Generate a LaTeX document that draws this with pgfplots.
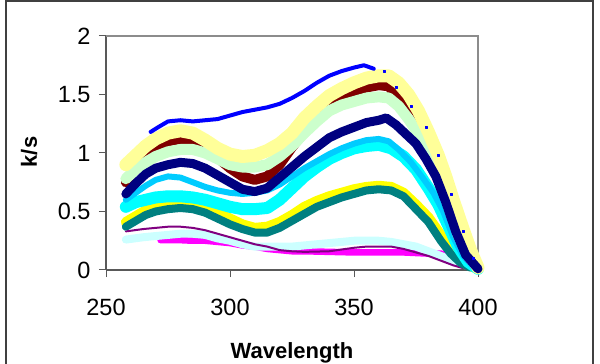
\documentclass[border=0pt]{standalone}
\usepackage{fontspec}
\setmainfont{Liberation Sans}
\usepackage{pgfplots}
\pgfplotsset{compat=1.18}
\definecolor{cBlue}{HTML}{0000FF}
\definecolor{cLYellow}{HTML}{FFFF99}
\definecolor{cMaroon}{HTML}{800000}
\definecolor{cLGreen}{HTML}{CCFFCC}
\definecolor{cNavy}{HTML}{000080}
\definecolor{cSky}{HTML}{00CCFF}
\definecolor{cCyan}{HTML}{00FFFF}
\definecolor{cYellow}{HTML}{FFFF00}
\definecolor{cTeal}{HTML}{008080}
\definecolor{cPurple}{HTML}{800080}
\definecolor{cLCyan}{HTML}{CCFFFF}
\definecolor{cMagenta}{HTML}{FF00FF}
\begin{document}
\begin{tikzpicture}
\useasboundingbox (0,0) rectangle (600bp,364bp);
\draw[line width=2bp, draw=black!75] (6bp,-20bp) rectangle (593bp,363bp);
\begin{axis}[
  at={(106bp,94bp)}, anchor=south west,
  scale only axis, width=372bp, height=234bp,
  xmin=250, xmax=400, ymin=0, ymax=2,
  xtick={250,300,350,400}, ytick={0,0.5,1,1.5,2},
  yticklabels={0,0.5,1,1.5,2},
  axis x line*=bottom, axis y line*=left,
  axis line style={draw=black!65, line width=1.2bp, -},
  tick align=outside, major tick length=7bp,
  tick style={draw=black!65, line width=1bp},
  /pgf/number format/assume math mode=true,
  ticklabel style={font=\fontsize{23.5bp}{28bp}\selectfont},
  xticklabel style={yshift=-19bp},
  yticklabel style={xshift=-5bp},
  clip=false,
  every axis plot/.append style={line cap=round, line join=round, mark=none},
]
\draw[draw=black!45, line width=1.2bp] (rel axis cs:0,1) -- (rel axis cs:1,1) -- (rel axis cs:1,0);
% magenta
\addplot[cMagenta, line width=6.5bp] coordinates {(272,0.255)(275,0.255)(280,0.255)(285,0.25)(290,0.25)(295,0.24)(300,0.23)(305,0.21)(310,0.2)(315,0.18)(320,0.17)(325,0.16)(330,0.16)(340,0.155)(350,0.15)(360,0.15)(370,0.15)(380,0.14)(385,0.14)(390,0.12)(395,0.11)(399,0.1)};
% light cyan
\addplot[cLCyan, line width=8bp] coordinates {(258,0.26)(265,0.28)(270,0.29)(275,0.3)(280,0.31)(285,0.31)(290,0.3)(295,0.27)(300,0.25)(305,0.22)(310,0.2)(315,0.2)(320,0.2)(325,0.2)(330,0.21)(340,0.23)(350,0.25)(360,0.25)(365,0.24)(370,0.22)(375,0.2)(380,0.16)(385,0.12)(390,0.08)(395,0.04)(400,0.01)};
% purple
\addplot[cPurple, line width=2bp] coordinates {(258,0.33)(265,0.35)(270,0.36)(275,0.37)(280,0.37)(285,0.36)(290,0.34)(295,0.31)(300,0.28)(305,0.25)(310,0.22)(315,0.2)(320,0.17)(325,0.16)(330,0.155)(340,0.16)(350,0.19)(355,0.2)(360,0.2)(365,0.2)(370,0.18)(375,0.15)(380,0.12)(385,0.08)(390,0.04)(395,0.01)(400,0.0)};
% yellow
\addplot[cYellow, line width=10bp] coordinates {(258,0.41)(262,0.46)(266,0.51)(270,0.54)(275,0.57)(280,0.58)(285,0.57)(290,0.54)(295,0.49)(300,0.44)(305,0.39)(310,0.36)(315,0.37)(320,0.41)(325,0.47)(330,0.54)(335,0.59)(340,0.63)(345,0.66)(350,0.69)(355,0.71)(360,0.72)(365,0.71)(370,0.66)(375,0.56)(380,0.45)(385,0.3)(390,0.15)(395,0.05)(400,0.01)};
% teal
\addplot[cTeal, line width=8bp] coordinates {(258,0.37)(262,0.42)(266,0.47)(270,0.5)(275,0.52)(280,0.53)(285,0.52)(290,0.49)(295,0.44)(300,0.39)(305,0.35)(310,0.32)(315,0.32)(320,0.36)(325,0.42)(330,0.48)(335,0.54)(340,0.58)(345,0.62)(350,0.65)(355,0.68)(360,0.69)(365,0.68)(370,0.63)(375,0.52)(380,0.41)(385,0.25)(389,0.14)(393,0.06)(397,0.02)};
% cyan
\addplot[cCyan, line width=12bp] coordinates {(258,0.54)(262,0.58)(266,0.6)(270,0.62)(275,0.63)(280,0.63)(285,0.62)(290,0.6)(295,0.57)(300,0.54)(305,0.52)(310,0.52)(315,0.53)(320,0.6)(325,0.7)(330,0.8)(335,0.88)(340,0.95)(345,1.0)(350,1.04)(355,1.06)(360,1.07)(365,1.04)(370,0.97)(375,0.86)(380,0.7)(384,0.56)(388,0.38)(392,0.2)(396,0.07)(400,0.01)};
% sky blue
\addplot[cSky, line width=6bp] coordinates {(258,0.6)(262,0.66)(266,0.72)(270,0.77)(275,0.8)(280,0.79)(285,0.75)(290,0.71)(295,0.68)(300,0.66)(305,0.65)(310,0.66)(315,0.68)(320,0.73)(325,0.8)(330,0.87)(335,0.93)(340,0.99)(345,1.04)(350,1.08)(355,1.11)(360,1.12)(364,1.1)(368,1.03)(373,0.92)(378,0.78)(382,0.66)(386,0.5)(390,0.28)(394,0.12)(398,0.03)};
% maroon
\addplot[cMaroon, line width=10bp] coordinates {(258,0.75)(262,0.88)(266,0.98)(270,1.05)(275,1.1)(280,1.12)(285,1.11)(290,1.05)(295,0.96)(300,0.87)(305,0.8)(310,0.77)(315,0.8)(320,0.9)(325,1.05)(330,1.18)(335,1.3)(340,1.41)(345,1.48)(350,1.53)(355,1.56)(360,1.58)(364,1.57)(368,1.47)(372,1.36)(378,1.13)(383,0.92)(386,0.77)(389,0.6)(393,0.34)(396,0.17)(400,0.02)};
% blue (dots on the descent)
\addplot[cBlue, only marks, mark=square*, mark size=1bp] coordinates {(362,1.7)(367,1.56)(373,1.4)(379,1.22)(384,0.98)(389,0.65)(394,0.33)(398,0.1)};
% light green
\addplot[cLGreen, line width=11bp] coordinates {(258,0.78)(262,0.86)(266,0.92)(270,0.97)(275,1.01)(280,1.03)(285,1.03)(290,1.0)(295,0.95)(300,0.9)(305,0.88)(310,0.88)(315,0.9)(320,0.97)(325,1.06)(330,1.17)(335,1.27)(340,1.36)(345,1.41)(350,1.44)(355,1.47)(360,1.48)(364,1.47)(368,1.4)(372,1.29)(376,1.16)(380,1.0)(384,0.8)(388,0.55)(392,0.3)(396,0.12)(400,0.02)};
% light yellow
\addplot[cLYellow, line width=13bp] coordinates {(258,0.9)(262,0.98)(266,1.06)(270,1.12)(275,1.17)(280,1.19)(285,1.17)(290,1.11)(295,1.04)(300,0.99)(305,0.97)(310,0.98)(315,1.02)(320,1.08)(325,1.17)(330,1.3)(335,1.4)(340,1.49)(345,1.55)(350,1.6)(355,1.64)(360,1.66)(364,1.66)(368,1.6)(372,1.5)(376,1.36)(380,1.18)(384,0.98)(387,0.8)(390,0.6)(394,0.35)(397,0.17)(400,0.02)};
% blue
\addplot[cBlue, line width=4bp] coordinates {(268,1.18)(271,1.22)(275,1.27)(280,1.28)(285,1.27)(290,1.28)(295,1.29)(300,1.32)(305,1.35)(310,1.37)(315,1.39)(320,1.42)(325,1.47)(330,1.53)(335,1.6)(340,1.66)(345,1.7)(350,1.73)(354,1.75)(358,1.72)};
% navy
\addplot[cNavy, line width=9bp] coordinates {(258,0.65)(262,0.74)(266,0.82)(270,0.87)(275,0.9)(280,0.92)(285,0.91)(290,0.87)(295,0.81)(300,0.75)(305,0.69)(310,0.67)(315,0.7)(320,0.79)(325,0.88)(330,0.97)(335,1.05)(340,1.13)(345,1.18)(350,1.22)(355,1.26)(360,1.28)(363,1.3)(367,1.24)(371,1.16)(375,1.08)(379,0.95)(383,0.8)(387,0.58)(391,0.33)(395,0.13)(400,0.01)};
\end{axis}
\node[font=\bfseries\fontsize{22bp}{26bp}\selectfont, rotate=90] at (29bp,212bp) {k/s};
\node[font=\bfseries\fontsize{22bp}{26bp}\selectfont, anchor=base] at (292bp,5.5bp) {Wavelength};
\end{tikzpicture}
\end{document}
